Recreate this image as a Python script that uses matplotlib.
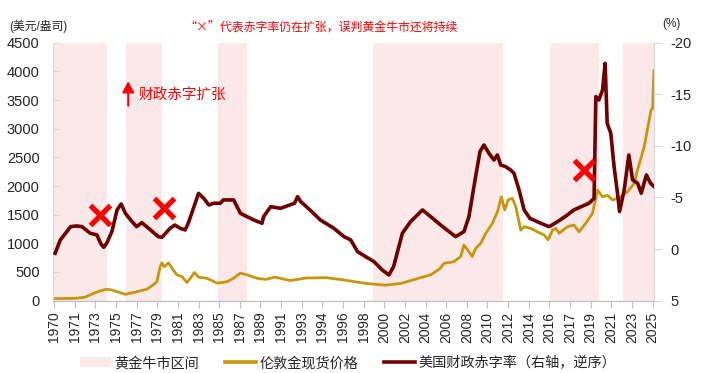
import numpy as np
import matplotlib
matplotlib.use("Agg")
import matplotlib.pyplot as plt
from matplotlib.patches import Patch
from matplotlib.lines import Line2D

plt.rcParams['font.family'] = ['Liberation Sans', 'Noto Sans CJK SC']

# category axis labels (irregular years, evenly spaced like the source chart)
tick_years = [1970, 1971, 1973, 1975, 1977, 1979, 1981, 1983, 1985, 1987,
              1989, 1991, 1993, 1994, 1996, 1998, 2000, 2002, 2004, 2006,
              2008, 2010, 2012, 2014, 2016, 2017, 2019, 2021, 2023, 2025]
axis_years = tick_years + [2027]

def to_pos(years):
    return np.interp(years, axis_years, np.arange(len(axis_years)))

# gold bull market periods
bull_start = [1970.0, 1975.92, 1984.84, 1998.88, 2016.02, 2022.18]
bull_end = [1974.17, 1979.48, 1987.7, 2011.48, 2019.76, 2025.13]

# London spot gold, USD/oz
gold_year = [1970.0, 1971.0, 1972.0, 1972.5, 1973.0, 1973.5, 1974.1, 1974.6,
             1975.9, 1977.0, 1978.0, 1978.6, 1978.95, 1979.28, 1979.45, 1979.67,
             1980.09, 1980.42, 1980.9, 1981.39, 1981.87, 1982.2, 1982.6, 1983.0,
             1983.8, 1984.8, 1985.75, 1986.4, 1987.05, 1987.7, 1988.67, 1989.5,
             1990.4, 1991.9, 1993.2, 1994.4, 1996.1, 1998.2, 2000.1, 2001.6,
             2003.5, 2004.5, 2005.4, 2005.78, 2006.75, 2007.4, 2007.72, 2008.2,
             2008.53, 2008.85, 2009.34, 2009.83, 2010.48, 2010.96, 2011.35, 2011.67,
             2011.99, 2012.42, 2012.74, 2013.22, 2013.55, 2014.2, 2014.84, 2015.49,
             2015.87, 2016.15, 2016.31, 2016.47, 2016.87, 2017.39, 2017.87, 2018.52,
             2019.17, 2019.66, 2020.15, 2020.63, 2021.12, 2021.92, 2022.57, 2023.21,
             2023.54, 2024.18, 2024.67, 2024.85, 2025.0, 2025.13]
gold_price = [35, 40, 60, 100, 140, 170, 200, 185,
              110, 155, 200, 275, 330, 590, 660, 590,
              660, 565, 450, 420, 315, 390, 490, 410,
              390, 305, 330, 390, 480, 450, 390, 370,
              410, 350, 395, 400, 360, 300, 270, 300,
              400, 450, 560, 650, 680, 770, 970, 855,
              770, 910, 1000, 1175, 1350, 1550, 1810, 1580,
              1755, 1785, 1640, 1230, 1290, 1260, 1200, 1145,
              1060, 1230, 1260, 1175, 1290, 1320, 1200, 1350,
              1520, 1930, 1810, 1840, 1755, 1810, 1900, 2045,
              2280, 2680, 3150, 3330, 3350, 4010]

# US fiscal deficit ratio, % (right axis, reversed)
deficit_year = [1970.05, 1970.3, 1970.8, 1971.2, 1971.7, 1972.5, 1973.15, 1973.5,
                1973.8, 1974.1, 1974.6, 1975.1, 1975.5, 1975.9, 1976.55, 1977.0,
                1977.5, 1978.15, 1979.1, 1979.45, 1980.25, 1980.7, 1981.2, 1981.7,
                1982.0, 1983.0, 1983.5, 1984.0, 1984.45, 1985.1, 1985.4, 1986.4,
                1987.05, 1987.7, 1988.35, 1989.15, 1989.3, 1990.0, 1990.95, 1992.3,
                1992.6, 1992.9, 1993.4, 1993.9, 1995.1, 1996.1, 1996.75, 1997.4,
                1998.2, 1999.0, 1999.8, 2000.45, 2000.9, 2001.75, 2002.55, 2003.7,
                2004.49, 2005.46, 2006.91, 2007.72, 2008.2, 2008.85, 2009.27, 2009.65,
                2010.14, 2010.63, 2010.96, 2011.28, 2011.77, 2012.25, 2012.57, 2013.06,
                2013.55, 2014.1, 2015.17, 2015.97, 2016.4, 2016.87, 2017.36, 2018.84,
                2019.33, 2019.5, 2019.8, 2020.15, 2020.4, 2020.6, 2020.95, 2021.27,
                2021.6, 2021.8, 2022.25, 2022.7, 2023.06, 2023.55, 2023.9, 2024.4,
                2024.8, 2025.15]
deficit_pct = [0.41, -0.88, -2.17, -2.24, -2.17, -1.53, -1.37, -0.56,
               -0.17, -0.56, -1.69, -3.79, -4.37, -3.47, -2.66, -2.17,
               -2.56, -2.02, -1.2, -1.14, -2.02, -2.33, -2.02, -1.85,
               -2.5, -5.4, -4.92, -4.27, -4.44, -4.44, -4.76, -4.76,
               -3.47, -3.14, -2.82, -2.5, -3.14, -4.11, -3.95, -4.44,
               -5.08, -4.6, -3.79, -2.82, -2.02, -1.2, -0.88, 0.25,
               0.74, 1.22, 2.03, 2.51, 1.7, -1.53, -2.66, -3.79,
               -3.14, -2.33, -1.2, -1.69, -3.14, -7.02, -9.44, -10.09,
               -9.28, -8.63, -9.12, -8.15, -7.98, -7.66, -7.34, -5.73,
               -3.79, -2.98, -2.5, -2.17, -2.66, -3.3, -3.79, -4.44,
               -4.92, -14.77, -14.45, -15.42, -18.0, -12.19, -11.22, -7.98,
               -5.41, -3.63, -5.73, -9.12, -6.7, -6.38, -5.41, -7.18,
               -6.38, -6.05]

# "x" marks: deficit still expanding
mark_year = [1973.47, 1979.67, 2018.33]
mark_pct = [-3.3, -3.98, -7.67]

band_color = '#FBE8E8'
gold_color = '#C8960C'
deficit_color = '#6E0000'
text_color = '#262626'
cjk = ['Noto Sans CJK SC', 'DejaVu Sans']

fig = plt.figure(figsize=(7.01, 3.73), dpi=100)
ax = fig.add_axes([0.0763, 0.194, 0.8567, 0.6915])
ax2 = ax.twinx()

for s, e in zip(bull_start, bull_end):
    ax.axvspan(to_pos(s), to_pos(e), color=band_color, lw=0, zorder=0)

ax.plot(to_pos(gold_year), gold_price, color=gold_color, lw=2.0, zorder=2)
ax2.plot(to_pos(deficit_year), deficit_pct, color=deficit_color, lw=2.6, zorder=3)
ax2.plot(to_pos(mark_year), mark_pct, ls='none', marker='x', ms=15, mew=3.8,
         color='#FF0000', zorder=5)

ax.set_xlim(-0.03, 29.07)
ax.set_ylim(0, 4500)
ax.set_yticks(np.arange(0, 4501, 500))
ax2.set_ylim(5, -20)
ax2.set_yticks([5, 0, -5, -10, -15, -20])
ax2.set_yticklabels(['5', '0', '-5', '-10', '-15', '-20'])

ax.set_xticks(np.arange(len(tick_years)))
ax.set_xticklabels([str(y) for y in tick_years], rotation=90)

for a in (ax, ax2):
    a.spines['top'].set_visible(False)
    a.spines['left'].set_color('#D9D9D9')
    a.spines['right'].set_color('#D9D9D9')
    a.spines['bottom'].set_color('#BFBFBF')
ax.tick_params(axis='x', direction='out', length=5, color='#BFBFBF',
               labelsize=10, labelcolor=text_color, pad=3)
ax.tick_params(axis='y', direction='in', length=4, color='#D9D9D9',
               labelsize=10.5, labelcolor=text_color, pad=10)
ax2.tick_params(axis='y', direction='out', length=6, color='#D9D9D9',
                labelsize=10.5, labelcolor=text_color, pad=6)

# arrow + annotation
ax.annotate('', xy=(to_pos(1976.18), 3874), xytext=(to_pos(1976.18), 3352),
            arrowprops=dict(arrowstyle='-|>,head_length=0.55,head_width=0.3',
                            color='#FF0000', lw=1.4, mutation_scale=12))
ax.text(to_pos(1977.18), 3583, '财政赤字扩张', color='#FF0000', fontsize=10.5,
        ha='left', va='center')

fig.text(321.5 / 701, 1 - 28.5 / 373, '“×”代表赤字率仍在扩张，误判黄金牛市还将持续',
         color='#FF0000', fontsize=8.6, ha='center', va='center', family=cjk)
fig.text(9 / 701, 1 - 26 / 373, '(美元/盎司)', color=text_color, fontsize=8.5,
         ha='left', va='center')
fig.text(662 / 701, 1 - 24 / 373, '(%)', color=text_color, fontsize=8.5,
         ha='left', va='center')

handles = [Patch(facecolor=band_color, edgecolor='none'),
           Line2D([], [], color=gold_color, lw=2.6),
           Line2D([], [], color=deficit_color, lw=2.6)]
labels = ['黄金牛市区间', '伦敦金现货价格', '美国财政赤字率（右轴，逆序）']
fig.legend(handles, labels, loc='center', bbox_to_anchor=(348 / 701, 1 - 363 / 373),
           ncol=3, frameon=False, fontsize=10.2, handlelength=2.2,
           handletextpad=0.25, columnspacing=1.8, labelcolor=text_color)

fig.savefig('out.png', dpi=100)
